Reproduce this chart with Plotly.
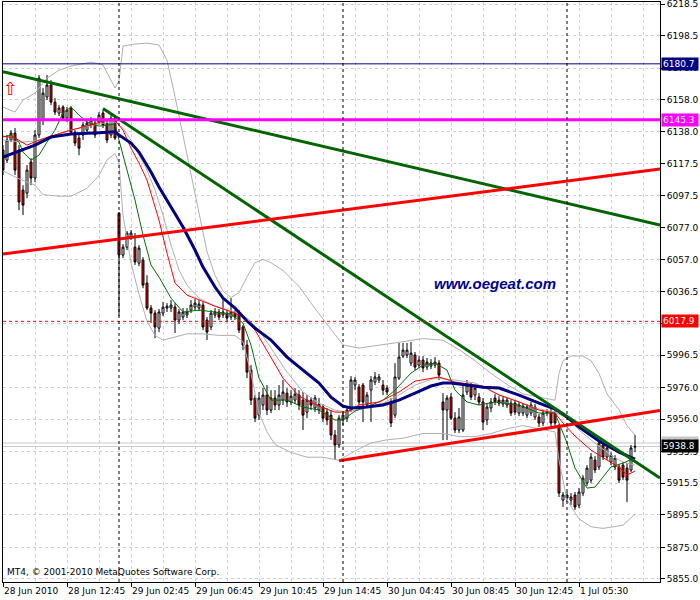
import plotly.graph_objects as go

# ---------------- data (M15 bars, index = bar number) ----------------
bar_open = [6126.2, 6119.8, 6132.5, 6136.9, 6126.2, 6100.9, 6099.0, 6118.6, 6108.5, 6135.7,
            6145.1, 6159.7, 6167.3, 6156.5, 6149.6, 6153.4, 6146.4, 6152.7, 6137.5, 6133.8,
            6135.7, 6138.8, 6142.0, 6143.2, 6143.9, 6149.6, 6143.2, 6135.7, 6146.4, 6086.3,
            6059.8, 6064.8, 6070.5, 6064.8, 6054.7, 6056.6, 6042.1, 6026.3, 6023.1, 6013.6,
            6023.1, 6026.3, 6026.3, 6026.9, 6018.7, 6020.6, 6021.9, 6025.0, 6026.9, 6026.3,
            6028.2, 6018.7, 6014.3, 6021.9, 6023.8, 6021.9, 6023.1, 6020.6, 6023.1, 6023.1,
            6014.3, 6002.9, 5987.1, 5969.4, 5958.6, 5965.0, 5971.3, 5961.8, 5969.4, 5965.0,
            5968.1, 5972.5, 5966.9, 5968.1, 5971.3, 5968.1, 5960.5, 5968.1, 5963.1, 5961.8,
            5963.7, 5960.5, 5958.6, 5946.0, 5939.7, 5955.5, 5956.7, 5961.8, 5977.6, 5976.3,
            5977.6, 5965.0, 5974.4, 5979.5, 5980.8, 5977.6, 5975.7, 5966.9, 5958.6, 5982.0,
            5995.9, 5996.6, 5991.5, 5996.6, 5990.2, 5993.4, 5989.0, 5989.6, 5990.2, 5991.5,
            5966.9, 5961.8, 5970.0, 5956.7, 5949.2, 5949.2, 5973.2, 5976.3, 5971.3, 5970.0,
            5966.9, 5955.5, 5963.1, 5969.4, 5968.1, 5965.6, 5965.0, 5966.2, 5966.2, 5959.9,
            5959.9, 5958.6, 5959.9, 5957.4, 5957.4, 5953.6, 5959.9, 5960.5, 5959.9, 5951.1,
            5904.9, 5906.2, 5904.9, 5908.1, 5901.7, 5909.3, 5915.6, 5917.5, 5930.2, 5925.8,
            5939.7, 5932.1, 5928.9, 5925.8, 5925.8, 5927.0, 5925.1, 5923.9, 5938.4]
bar_high = [6129.3, 6135.7, 6138.8, 6140.1, 6129.3, 6104.0, 6116.7, 6121.1, 6138.8, 6173.6,
            6165.4, 6173.6, 6170.4, 6159.0, 6154.6, 6154.6, 6153.4, 6154.0, 6138.8, 6135.7,
            6143.9, 6145.1, 6147.0, 6145.1, 6150.2, 6151.5, 6145.1, 6148.3, 6148.3, 6087.0,
            6066.7, 6075.0, 6075.6, 6073.7, 6066.1, 6058.5, 6047.1, 6028.2, 6025.0, 6025.7,
            6030.1, 6029.4, 6031.3, 6029.4, 6025.7, 6026.3, 6026.3, 6031.3, 6032.0, 6031.3,
            6030.1, 6020.6, 6025.0, 6026.3, 6025.7, 6032.6, 6025.0, 6032.6, 6025.0, 6025.0,
            6015.5, 6006.1, 5990.2, 5971.3, 5973.2, 5975.7, 5977.6, 5974.4, 5974.4, 5977.6,
            5980.8, 5975.7, 5974.4, 5975.7, 5974.4, 5973.2, 5971.3, 5970.0, 5971.3, 5969.4,
            5965.6, 5963.1, 5961.8, 5949.2, 5958.6, 5960.5, 5964.3, 5983.3, 5982.7, 5978.2,
            5978.9, 5973.2, 5983.3, 5985.8, 5984.6, 5980.8, 5977.6, 5969.4, 5991.5, 6004.2,
            6004.2, 6004.2, 6004.8, 5998.5, 5995.9, 5995.9, 5994.7, 5994.0, 5995.3, 5993.4,
            5972.5, 5971.3, 5972.5, 5960.5, 5963.1, 5978.9, 5980.8, 5978.9, 5977.6, 5972.5,
            5969.4, 5966.2, 5969.4, 5971.9, 5970.6, 5970.6, 5970.0, 5968.1, 5968.1, 5966.9,
            5966.2, 5965.6, 5966.9, 5965.6, 5959.3, 5961.8, 5962.4, 5962.4, 5961.8, 5952.9,
            5910.0, 5910.0, 5909.3, 5910.0, 5912.5, 5920.7, 5927.0, 5934.6, 5932.7, 5942.8,
            5941.6, 5939.7, 5935.2, 5933.3, 5927.7, 5928.9, 5928.3, 5939.7, 5946.0]
bar_low = [6110.4, 6118.0, 6131.2, 6110.4, 6088.2, 6085.1, 6095.8, 6104.0, 6105.9, 6133.8,
           6142.0, 6157.8, 6154.6, 6148.3, 6147.7, 6145.1, 6143.9, 6135.7, 6128.7, 6123.0,
           6132.5, 6136.9, 6140.1, 6133.8, 6142.0, 6140.1, 6130.6, 6133.8, 6132.5, 6021.2,
           6057.9, 6062.9, 6069.3, 6053.5, 6052.8, 6038.9, 6025.0, 6016.8, 6007.3, 6011.1,
           6021.2, 6023.8, 6023.8, 6010.5, 6016.2, 6018.7, 6020.0, 6023.1, 6025.0, 6024.4,
           6012.4, 6006.1, 6012.4, 6020.0, 6018.7, 6020.0, 6017.4, 6018.7, 6018.7, 6010.5,
           5999.7, 5982.0, 5965.0, 5954.2, 5955.5, 5961.8, 5958.6, 5959.9, 5961.8, 5961.8,
           5965.0, 5963.7, 5965.0, 5965.6, 5961.8, 5949.2, 5956.7, 5961.8, 5960.5, 5959.3,
           5954.2, 5952.3, 5942.8, 5930.2, 5937.8, 5952.3, 5954.2, 5960.5, 5974.4, 5965.0,
           5954.2, 5963.1, 5954.2, 5977.6, 5978.9, 5971.3, 5971.3, 5951.1, 5956.7, 5980.8,
           5994.7, 5994.7, 5989.6, 5987.1, 5988.4, 5985.8, 5987.1, 5987.7, 5988.4, 5980.8,
           5942.8, 5942.8, 5955.5, 5947.3, 5947.3, 5947.9, 5971.3, 5968.1, 5968.1, 5965.0,
           5949.2, 5952.3, 5960.5, 5965.0, 5964.3, 5963.7, 5963.1, 5958.0, 5958.6, 5958.0,
           5958.0, 5956.7, 5958.0, 5955.5, 5951.1, 5951.7, 5958.0, 5951.7, 5951.7, 5906.8,
           5900.5, 5903.6, 5901.7, 5898.6, 5899.8, 5907.4, 5913.8, 5915.6, 5922.0, 5923.9,
           5930.2, 5930.2, 5927.0, 5923.9, 5915.6, 5917.5, 5903.6, 5922.6, 5935.2]
bar_close = [6113.5, 6132.5, 6136.9, 6113.5, 6093.3, 6091.4, 6113.5, 6108.5, 6135.7, 6171.7,
             6162.2, 6167.3, 6156.5, 6150.2, 6152.7, 6146.4, 6151.5, 6137.5, 6130.6, 6127.4,
             6142.0, 6143.2, 6145.1, 6135.7, 6148.3, 6142.0, 6132.5, 6146.4, 6133.8, 6059.8,
             6064.8, 6073.7, 6073.7, 6055.4, 6064.2, 6040.8, 6026.3, 6023.1, 6014.3, 6023.8,
             6026.9, 6027.5, 6028.2, 6018.7, 6023.8, 6023.8, 6023.8, 6028.2, 6029.4, 6028.8,
             6014.3, 6011.1, 6023.1, 6023.8, 6020.6, 6023.8, 6020.0, 6023.8, 6020.6, 6012.4,
             6002.9, 5985.8, 5968.1, 5956.7, 5969.4, 5971.3, 5961.8, 5969.4, 5965.0, 5971.3,
             5973.2, 5966.9, 5970.6, 5971.9, 5965.0, 5958.6, 5968.1, 5965.0, 5969.4, 5965.6,
             5956.7, 5955.5, 5946.0, 5939.7, 5956.7, 5958.6, 5961.8, 5980.8, 5980.8, 5966.9,
             5966.9, 5971.3, 5980.8, 5982.7, 5982.7, 5974.4, 5973.2, 5953.6, 5982.7, 5995.3,
             5999.7, 5999.7, 5997.8, 5989.0, 5993.4, 5988.4, 5992.1, 5991.5, 5992.1, 5983.9,
             5961.8, 5969.4, 5956.7, 5949.2, 5957.4, 5971.3, 5977.6, 5970.0, 5975.7, 5966.9,
             5954.2, 5963.7, 5966.9, 5966.9, 5966.2, 5968.1, 5968.1, 5959.9, 5960.5, 5965.0,
             5964.3, 5963.7, 5965.0, 5963.7, 5953.6, 5959.9, 5960.5, 5953.6, 5953.6, 5909.3,
             5908.1, 5908.1, 5906.8, 5900.5, 5910.0, 5918.8, 5925.1, 5932.1, 5923.9, 5940.9,
             5932.1, 5937.8, 5933.3, 5931.5, 5917.5, 5919.4, 5917.5, 5937.8, 5938.8]
bar_index = list(range(len(bar_close)))

# indicator lines, sampled along the bars (bar index, price)
ma_slow_x = [0, 5, 8, 12, 17, 24, 28, 29, 32, 34, 37, 39, 41, 45, 48, 50, 53, 55, 58, 61, 63, 67,
             71, 74, 79, 82, 85, 87, 91, 95, 99, 103, 107, 110, 112, 116, 120, 124, 129, 134, 138,
             141, 144, 149, 154, 158]
ma_slow = [6121.7, 6126.2, 6129.3, 6134.4, 6136.3, 6137.2, 6137.7, 6135.7, 6130.6, 6124.9, 6112.3,
           6102.8, 6094.6, 6077.5, 6063.0, 6052.2, 6039.6, 6032.6, 6026.3, 6018.1, 6013.6, 6006.1,
           5995.3, 5989.0, 5978.9, 5970.0, 5964.3, 5963.1, 5963.7, 5965.0, 5968.1, 5972.5, 5977.0,
           5978.9, 5978.9, 5977.6, 5976.3, 5975.7, 5971.3, 5966.2, 5962.4, 5957.4, 5951.1, 5942.2,
           5935.2, 5930.8]
ma_mid_x = [0, 3, 6, 9, 12, 17, 22, 25, 28, 30, 32, 34, 36, 39, 41, 43, 46, 49, 53, 58, 60, 63,
            66, 70, 74, 79, 83, 86, 89, 94, 99, 103, 109, 113, 120, 124, 129, 134, 138, 140, 143,
            147, 151, 154, 156, 158]
ma_mid = [6135.0, 6133.8, 6129.3, 6132.5, 6135.0, 6138.8, 6142.0, 6144.5, 6145.1, 6138.8, 6127.4,
          6118.0, 6107.2, 6081.9, 6061.0, 6042.1, 6034.5, 6031.3, 6027.5, 6023.1, 6020.6, 6012.4,
          5999.7, 5982.0, 5970.6, 5964.3, 5960.5, 5960.5, 5965.0, 5966.9, 5973.2, 5980.1, 5982.7,
          5979.5, 5977.0, 5971.3, 5966.9, 5961.8, 5959.9, 5953.6, 5945.4, 5936.5, 5930.2, 5925.8,
          5920.7, 5923.2]
ma_fast_x = [0, 2, 4, 5, 7, 9, 11, 13, 15, 17, 19, 21, 24, 26, 28, 29, 31, 33, 35, 37, 39, 42,
             45, 49, 53, 57, 60, 62, 64, 67, 71, 75, 79, 83, 85, 88, 91, 95, 98, 102, 105, 108,
             111, 113, 116, 119, 123, 129, 134, 138, 139, 141, 143, 146, 148, 150, 152, 155, 158]
ma_fast = [6134.4, 6135.7, 6131.2, 6124.9, 6119.8, 6123.0, 6131.2, 6138.8, 6149.6, 6153.4, 6148.3,
           6143.9, 6141.3, 6142.0, 6142.6, 6132.5, 6113.5, 6094.6, 6072.4, 6053.5, 6045.9, 6032.6,
           6023.8, 6025.0, 6023.8, 6022.5, 6016.8, 6002.9, 5982.0, 5968.1, 5968.1, 5963.7, 5961.8,
           5955.5, 5955.5, 5961.2, 5963.7, 5968.1, 5974.4, 5985.2, 5990.2, 5991.5, 5987.1, 5974.4,
           5966.9, 5965.0, 5966.9, 5965.0, 5959.9, 5959.9, 5953.6, 5941.0, 5925.1, 5912.5, 5913.1,
           5919.4, 5925.8, 5928.3, 5931.5]

# Bollinger bands (upper / middle / lower)
bb_upper_x = [0, 3, 5, 8, 11, 14, 17, 22, 25, 27, 28, 29, 30, 33, 36, 39, 41, 43, 45, 47, 49, 51,
              53, 55, 57, 59, 61, 63, 65, 67, 70, 74, 78, 82, 85, 89, 95, 100, 105, 110, 114, 118,
              122, 126, 130, 134, 138, 139, 140, 142, 145, 147, 149, 151, 154, 156, 158]
bb_upper = [6153.4, 6150.2, 6157.8, 6162.2, 6171.7, 6176.7, 6179.3, 6181.8, 6180.0, 6170.0, 6165.4,
            6170.0, 6192.0, 6193.2, 6193.8, 6192.6, 6183.0, 6160.0, 6135.0, 6110.0, 6085.0, 6062.0,
            6047.0, 6037.0, 6033.0, 6036.0, 6046.0, 6055.0, 6057.0, 6055.0, 6050.0, 6040.0, 6026.0,
            6013.0, 6003.0, 6001.0, 6003.0, 6005.0, 6007.0, 6006.0, 6000.0, 5993.0, 5985.0, 5978.0,
            5972.0, 5970.0, 5968.0, 5985.0, 5993.0, 5996.0, 5996.0, 5993.0, 5985.0, 5972.0, 5962.0,
            5952.0, 5946.0]
bb_mid_x = [0, 5, 10, 15, 20, 25, 28, 30, 32, 34, 36, 38, 40, 42, 44, 46, 49, 53, 58, 61, 64, 67,
            71, 75, 79, 83, 86, 90, 95, 99, 103, 108, 113, 118, 123, 128, 133, 138, 141, 144, 148,
            152, 155, 158]
bb_mid = [6132.5, 6131.2, 6132.5, 6137.5, 6140.7, 6143.2, 6143.9, 6140.1, 6132.5, 6123.0, 6113.5,
          6100.9, 6085.1, 6066.1, 6050.3, 6040.8, 6032.6, 6027.5, 6023.8, 6020.0, 6012.4, 6001.0,
          5985.8, 5973.2, 5966.2, 5961.8, 5960.5, 5963.1, 5966.2, 5971.3, 5977.6, 5982.0, 5980.8,
          5978.9, 5972.5, 5968.1, 5963.1, 5960.5, 5956.7, 5949.2, 5940.9, 5933.3, 5928.9, 5927.0]
bb_lower_x = [0, 4, 8, 10, 14, 17, 21, 24, 26, 28, 29, 30, 32, 34, 36, 38, 40, 43, 46, 50, 54, 58,
              60, 62, 64, 66, 68, 72, 76, 80, 84, 88, 92, 96, 100, 105, 110, 114, 118, 122, 126,
              130, 134, 138, 139, 141, 144, 147, 150, 155, 158]
bb_lower = [6113.0, 6108.0, 6104.0, 6098.0, 6097.0, 6097.0, 6102.0, 6110.0, 6120.0, 6124.0, 6118.0,
            6085.0, 6055.0, 6035.0, 6018.0, 6009.0, 6006.0, 6008.0, 6010.0, 6010.0, 6009.0, 6009.0,
            6005.0, 5985.0, 5960.0, 5948.0, 5940.0, 5935.0, 5932.0, 5932.0, 5930.0, 5936.0, 5941.0,
            5943.0, 5944.0, 5947.0, 5947.0, 5945.0, 5945.0, 5947.0, 5950.0, 5952.0, 5950.0, 5948.0,
            5930.0, 5905.0, 5893.0, 5888.0, 5887.0, 5889.0, 5896.0]

# trend lines (bar index, price)
green_line1_x = [0, 164.25]
green_line1_y = [6175.7, 6078.8]
green_line2_x = [25, 164.25]
green_line2_y = [6152.5, 5918.8]
red_line1_x = [0, 164.25]
red_line1_y = [6060.4, 6114.2]
red_line2_x = [84, 164.25]
red_line2_y = [5929.7, 5961.5]

# horizontal levels
level_blue = 6180.7
level_magenta = 6145.3
level_red = 6017.9
bid_price = 5938.8
ask_price = 5941.0

# day separators (first bar of each new day)
day_starts = [29, 85, 141]

# axis ticks
x_tickvals = [0, 16, 32, 48, 64, 80, 96, 112, 128, 144]
x_ticktext = ["28 Jun 2010", "28 Jun 12:45", "29 Jun 02:45", "29 Jun 06:45", "29 Jun 10:45",
              "29 Jun 14:45", "30 Jun 04:45", "30 Jun 08:45", "30 Jun 12:45", "1 Jul 05:30"]
y_tickvals = [6218.5, 6198.5, 6178.0, 6158.0, 6138.0, 6117.5, 6097.5, 6077.0, 6057.0, 6036.5,
              6016.5, 5996.5, 5976.0, 5956.0, 5935.5, 5915.5, 5895.5, 5875.0, 5855.0]

# ---------------- figure ----------------
FONT = "DejaVu Sans"
GRID = "#d0d0d0"
fig = go.Figure()

for xs, ys in [(bb_upper_x, bb_upper), (bb_mid_x, bb_mid), (bb_lower_x, bb_lower)]:
    fig.add_trace(go.Scatter(x=xs, y=ys, mode="lines", line=dict(color="#b0b0b0", width=1),
                             hoverinfo="skip"))

# bid / ask lines
for lv in [ask_price, bid_price]:
    fig.add_shape(type="line", xref="paper", x0=0, x1=1, yref="y", y0=lv, y1=lv,
                  line=dict(color="#c8c8c8", width=1), layer="below")

fig.add_trace(go.Candlestick(
    x=bar_index, open=bar_open, high=bar_high, low=bar_low, close=bar_close,
    increasing=dict(line=dict(color="black", width=1), fillcolor="white"),
    decreasing=dict(line=dict(color="black", width=1), fillcolor="#ff0000"),
    whiskerwidth=0, hoverinfo="skip"))

fig.add_trace(go.Scatter(x=ma_fast_x, y=ma_fast, mode="lines",
                         line=dict(color="#007000", width=1), hoverinfo="skip"))
fig.add_trace(go.Scatter(x=ma_mid_x, y=ma_mid, mode="lines",
                         line=dict(color="#ff0000", width=1), hoverinfo="skip"))
fig.add_trace(go.Scatter(x=ma_slow_x, y=ma_slow, mode="lines",
                         line=dict(color="#000080", width=3), hoverinfo="skip"))

# horizontal levels
fig.add_shape(type="line", xref="paper", x0=0, x1=1, y0=level_blue, y1=level_blue,
              line=dict(color="#000080", width=1))
fig.add_shape(type="line", xref="paper", x0=0, x1=1, y0=level_magenta, y1=level_magenta,
              line=dict(color="#ff00ff", width=3))
fig.add_shape(type="line", xref="paper", x0=0, x1=1, y0=level_red, y1=level_red,
              line=dict(color="#ff0000", width=1, dash="3px,3px"))

# day separators
for d in day_starts:
    fig.add_shape(type="line", x0=d, x1=d, yref="paper", y0=0, y1=1,
                  line=dict(color="black", width=1, dash="3px,3px"))

# trend lines
for xs, ys, col in [(green_line1_x, green_line1_y, "#006400"), (green_line2_x, green_line2_y, "#006400"),
                    (red_line1_x, red_line1_y, "#ff0000"), (red_line2_x, red_line2_y, "#ff0000")]:
    fig.add_trace(go.Scatter(x=xs, y=ys, mode="lines", line=dict(color=col, width=3),
                             hoverinfo="skip"))

# price labels on the right axis
for price, bg in [(level_blue, "#000080"), (level_magenta, "#ff00ff"), (level_red, "#ff0000"),
                  (ask_price, "#c8c8c8"), (bid_price, "#000000")]:
    fig.add_annotation(xref="paper", x=1, xanchor="left", xshift=1, yref="y", y=price,
                       text=f"{price:.1f}", showarrow=False, bgcolor=bg, borderpad=1,
                       width=34, align="left",
                       font=dict(family=FONT, size=9, color="white"))

fig.add_annotation(xref="paper", x=0, xanchor="left", xshift=2, yref="paper", y=0,
                   yanchor="bottom", yshift=3, showarrow=False,
                   text="MT4, © 2001-2010 MetaQuotes Software Corp.",
                   font=dict(family=FONT, size=9, color="black"))
fig.add_annotation(xref="paper", x=0, xanchor="left", xshift=-2, yref="paper", y=0.852,
                   yshift=12, showarrow=False, text="⇧",
                   font=dict(family=FONT, size=18, color="#ff0000"))
fig.add_annotation(xref="paper", x=0.749, xanchor="center", yref="paper", y=0.5155,
                   yanchor="middle", showarrow=False,
                   text="www.oegeat.com",
                   font=dict(family="Liberation Sans", size=15, color="#000090",
                             weight="bold", style="italic"))

fig.update_layout(
    width=700, height=600,
    margin=dict(l=3, r=40, t=2, b=18, autoexpand=False),
    paper_bgcolor="white", plot_bgcolor="white",
    showlegend=False,
    xaxis=dict(range=[0, 164.25], tickmode="array", tickvals=x_tickvals, ticktext=x_ticktext,
               ticks="outside", ticklen=4, tickcolor="black", tickangle=0, automargin=False,
               ticklabelposition="outside right", ticklabeloverflow="allow",
               tickfont=dict(family=FONT, size=9, color="black"),
               showline=True, linecolor="black", linewidth=1, mirror=True,
               showgrid=True, gridcolor=GRID, griddash="3px,3px", gridwidth=1,
               minor=dict(tickmode="linear", tick0=0, dtick=8, showgrid=True,
                          gridcolor=GRID, griddash="3px,3px", ticks=""),
               zeroline=False, rangeslider=dict(visible=False), fixedrange=True),
    yaxis=dict(side="right", range=[5853.1, 6219.8], tickmode="array", tickvals=y_tickvals,
               ticktext=[f"{v:.1f}" for v in y_tickvals], automargin=False,
               ticklabeloverflow="allow",
               ticks="outside", ticklen=4, tickcolor="black",
               tickfont=dict(family=FONT, size=9, color="black"),
               showline=True, linecolor="black", linewidth=1, mirror=True,
               showgrid=True, gridcolor=GRID, griddash="3px,3px", gridwidth=1,
               zeroline=False, fixedrange=True),
)

fig.write_html("out.html", config={"displayModeBar": False},
               post_script="document.body.style.margin='0';document.body.style.padding='0';")
